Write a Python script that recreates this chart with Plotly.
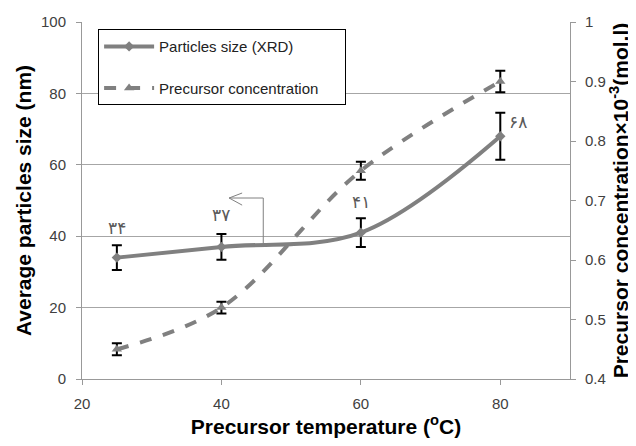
import plotly.graph_objects as go

temps = [25, 40, 60, 80]
size_nm = [34, 37, 41, 68]
size_err = [3.5, 3.6, 4.0, 6.6]
conc = [0.45, 0.52, 0.75, 0.90]
conc_err = [0.010, 0.010, 0.015, 0.018]
size_labels = ["۳۴", "۳۷", "۴۱", "۶۸"]
label_x = [25, 40, 60, 82.6]
label_y = [42.3, 45.9, 49.6, 72]

gray = "#808080"
font_family = "Liberation Sans, Arial, sans-serif"
pad = "\u00a0" * 5  # widens the legend box like the reference

fig = go.Figure()
fig.add_trace(go.Scatter(
    x=temps, y=size_nm, name="Particles size (XRD)",
    mode="lines+markers", line=dict(color=gray, width=4, shape="spline"),
    marker=dict(symbol="diamond", size=8, color=gray),
    error_y=dict(type="data", array=size_err, color="black", thickness=2, width=5),
    legendgroup="a",
))
fig.add_trace(go.Scatter(
    x=temps, y=conc, name="Precursor concentration" + pad, yaxis="y2",
    mode="lines+markers", line=dict(color=gray, width=4, dash="dash", shape="spline"),
    marker=dict(symbol="triangle-up", size=9, color=gray),
    error_y=dict(type="data", array=conc_err, color="black", thickness=2, width=5),
    legendgroup="b",
))

for lx, ly, t in zip(label_x, label_y, size_labels):
    fig.add_annotation(x=lx, y=ly, text=t, showarrow=False,
                       font=dict(size=17, color="#5a5a5a", family="DejaVu Sans"))

# callout bracket with open arrowhead
fig.add_shape(type="path", xref="x", yref="y",
              path="M 46,37.8 L 46,50.7 L 41.1,50.7",
              line=dict(color="#808080", width=1))
fig.add_shape(type="path", xref="x", yref="y",
              path="M 42.97,52.1 L 41.1,50.7 L 42.97,48.7",
              line=dict(color="#808080", width=1))

# page body adds an 8px offset; figure size/margins compensate for it
fig.update_layout(
    width=628, height=438,
    margin=dict(l=74, r=66, t=14, b=67),
    paper_bgcolor="white", plot_bgcolor="white",
    font=dict(family=font_family, size=15, color="#404040"),
    showlegend=True,
    legend=dict(x=0.033, y=0.98, xanchor="left", yanchor="top",
                bordercolor="black", borderwidth=1, bgcolor="white",
                font=dict(size=15, color="#222222"),
                traceorder="grouped", tracegroupgap=19,
                itemwidth=50),
    xaxis=dict(range=[20, 90], tickvals=[20, 40, 60, 80],
               showgrid=False, zeroline=False, automargin="bottom",
               showline=True, linecolor="#999999", linewidth=1,
               ticks="outside", ticklen=5, tickcolor="#999999",
               ticklabelstandoff=6,
               tickfont=dict(size=15, color="#404040"),
               title=dict(text="<b>Precursor temperature (<sup>o</sup>C)</b>",
                          font=dict(size=21, color="black"), standoff=4)),
    yaxis=dict(range=[0, 100], dtick=20, automargin="left",
               showgrid=True, gridcolor="#a6a6a6", gridwidth=1,
               zeroline=False, showline=True, linecolor="#999999", linewidth=1,
               ticks="outside", ticklen=5, tickcolor="#999999",
               ticklabelstandoff=7,
               tickfont=dict(size=15, color="#404040"),
               title=dict(text="<b>Average particles size (nm)</b>",
                          font=dict(size=21, color="black"), standoff=3)),
    yaxis2=dict(range=[0.4, 1.0], dtick=0.1, overlaying="y", side="right",
                showgrid=False, zeroline=False, automargin="right",
                showline=True, linecolor="#999999", linewidth=1,
                ticks="outside", ticklen=5, tickcolor="#999999",
                ticklabelstandoff=6,
                tickfont=dict(size=15, color="#404040"),
                title=dict(text="<b>Precursor concentration×10<sup>-3</sup>(mol.l)</b>",
                           font=dict(size=21, color="black"), standoff=8)),
)

fig.write_html("out.html")
